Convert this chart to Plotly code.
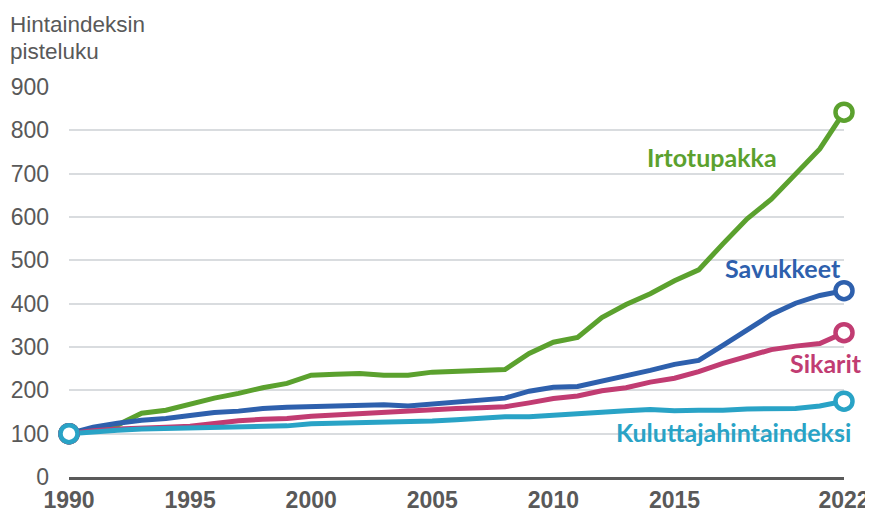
import plotly.graph_objects as go

years = list(range(1990, 2023))
irtotupakka = [100, 108, 120, 147, 154, 168, 182, 193, 206, 216, 235, 237, 239, 235, 235, 242, 244, 244, 248,
               285, 311, 322, 368, 398, 423, 453, 478, 538, 596, 641, 699, 757, 842]
savukkeet = [100, 115, 124, 131, 135, 143, 149, 152, 158, 161, 163, 164, 167, 167, 164, 169, 174, 177, 182,
             198, 207, 209, 221, 234, 246, 260, 269, 304, 340, 375, 401, 419, 430]
sikarit = [100, 107, 111, 114, 115, 117, 124, 130, 133, 135, 140, 143, 146, 151, 152, 155, 158, 160, 162,
           171, 181, 187, 199, 206, 219, 228, 243, 262, 279, 294, 302, 308, 333]
kuluttaja = [100, 105, 108, 111, 112, 113, 114, 115, 117, 118, 123, 124, 124, 127, 127, 129, 132, 135, 139,
             139, 143, 147, 150, 153, 156, 153, 154, 154, 157, 158, 158, 164, 175]

series = [
    ("Irtotupakka", irtotupakka, "#5ba12e"),
    ("Savukkeet", savukkeet, "#2e60ad"),
    ("Sikarit", sikarit, "#c13c72"),
    ("Kuluttajahintaindeksi", kuluttaja, "#29a3c6"),
]
labels = {
    "Irtotupakka": (2016.55, 738),
    "Savukkeet": (2019.5, 482),
    "Sikarit": (2021.25, 263),
    "Kuluttajahintaindeksi": (2017.42, 104),
}
xticks = [1990, 1995, 2000, 2005, 2010, 2015, 2022]
yticks = [0, 100, 200, 300, 400, 500, 600, 700, 800, 900]
title_lines = ["Hintaindeksin", "pisteluku"]

fig = go.Figure()
for name, vals, col in series:
    fig.add_trace(go.Scatter(x=years, y=vals, mode="lines", line=dict(color=col, width=5),
                             name=name, showlegend=False, hoverinfo="skip", cliponaxis=False))
for name, vals, col in series:
    fig.add_trace(go.Scatter(x=[years[0], years[-1]], y=[vals[0], vals[-1]], mode="markers",
                             marker=dict(size=17, color="white", line=dict(color=col, width=4.5)),
                             showlegend=False, cliponaxis=False))
    lx, ly = labels[name]
    fig.add_annotation(x=lx, y=ly, text=name, showarrow=False, xanchor="center", yanchor="middle",
                       font=dict(family="Lato", size=25, color=col, weight="bold"))

for txt, yp in zip(title_lines, [1.159, 1.090]):
    fig.add_annotation(xref="paper", yref="paper", x=-0.079, y=yp, xanchor="left", yanchor="middle",
                       align="left", showarrow=False, text=txt,
                       font=dict(family="Liberation Sans", size=22.5, color="#595959"))

fig.update_layout(
    width=865, height=508,
    margin=dict(l=61, r=29, t=79, b=39),
    plot_bgcolor="white", paper_bgcolor="white",
    xaxis=dict(range=[1990, 2022], tickvals=xticks, showgrid=False, zeroline=False, automargin=False,
               showline=True, linecolor="#5a5a5a", linewidth=3, ticks="",
               tickfont=dict(family="Liberation Sans", size=23, color="#595959", weight="bold")),
    yaxis=dict(range=[0, 900], tickvals=yticks, showgrid=True, gridcolor="#d9dcdf", gridwidth=2,
               zeroline=False, showline=False, ticks="", ticklabelstandoff=19, automargin=False,
               tickfont=dict(family="Liberation Sans", size=23, color="#595959")),
)
fig.write_html("out.html")
